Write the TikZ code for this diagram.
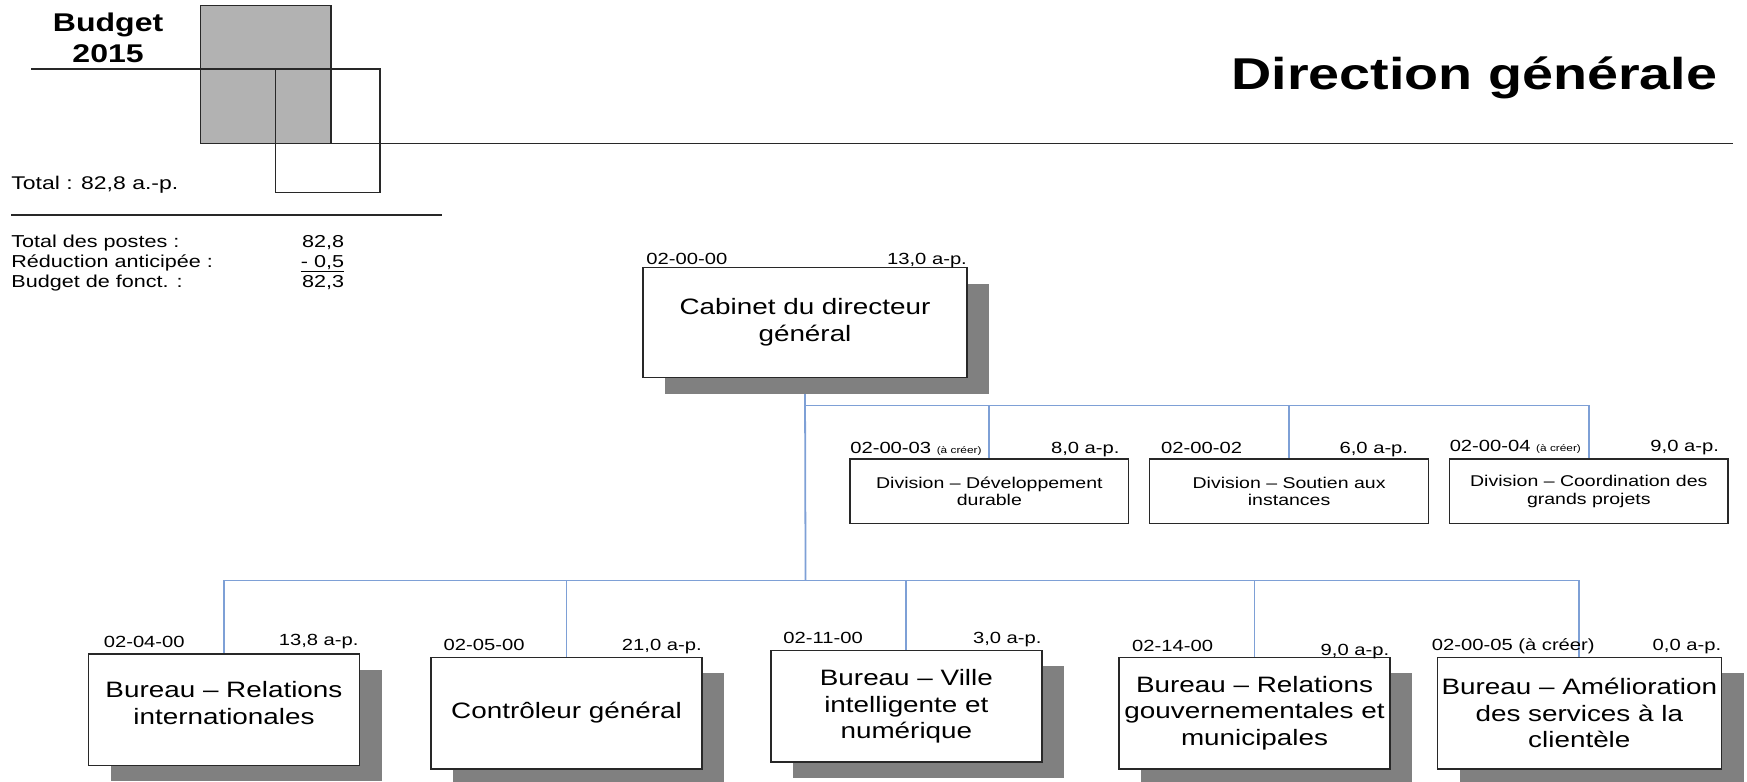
\documentclass[tikz,border=0pt]{standalone}
\usepackage{fontspec}
\setmainfont{Liberation Sans}[FakeStretch=1.25]
\usetikzlibrary{shadows}

\definecolor{bleulien}{RGB}{126,160,214}
\definecolor{ombre}{RGB}{128,128,128}
\definecolor{carre}{RGB}{178,178,178}
\definecolor{trait}{RGB}{40,40,40}

\newcommand{\fs}[2]{\fontsize{#1}{#2}\selectfont}

\pgfdeclarelayer{fond}
\pgfsetlayers{fond,main}

\begin{document}
\begin{tikzpicture}[x=1pt,y=-1pt]
  \useasboundingbox (0,0) rectangle (1568,701);

  % en-tete
  \begin{scope}[line width=1.2pt, draw=trait]
    \draw[fill=carre] (180,5) rectangle (297,129);
    \draw (247,62) rectangle (341,173);
    \draw (28,62) -- (247,62);
    \draw (240,129) -- (1555,129);
    \draw (10,193) -- (397,193);
  \end{scope}

  \node[font=\bfseries\fs{23}{28}, align=center] (budget) at (97,34) {Budget\\2015};
  \node[anchor=base east, font=\bfseries\fs{40}{48}] (titre) at (1545,80) {Direction générale};

  \begin{scope}[every node/.style={font=\fs{15.5}{18}, inner sep=0pt}]
    \node[anchor=base west, font=\fs{16.5}{19}] (total) at (10,170) {Total : 82,8 a.-p.};
    \node[anchor=base west] (postes) at (10,222) {Total des postes :};
    \node[anchor=base east] (vpostes) at (309,222) {82,8};
    \node[anchor=base west] (reduc) at (10,240) {Réduction anticipée :};
    \node[anchor=base east] (vreduc) at (309,240) {\underline{- 0,5}};
    \node[anchor=base west] (fonct) at (10,258) {Budget de fonct. :};
    \node[anchor=base east] (vfonct) at (309,258) {82,3};
  \end{scope}

  % boites
  \begin{scope}[every node/.style={draw=trait, line width=1.4pt, fill=white, align=center, inner sep=0pt}]
    \begin{scope}[every node/.append style={general shadow={fill=ombre, shadow xshift=20pt, shadow yshift=-15pt}}]
      \node[minimum width=291pt, minimum height=99pt, font=\fs{20}{24}] (cab) at (722.5,289.5) {Cabinet du directeur\\général};
    \end{scope}

    \begin{scope}[every node/.append style={minimum width=250pt, minimum height=58pt, line width=1.2pt, font=\fs{14}{16}}]
      \node (div1) at (888,441) {Division – Développement\\durable};
      \node (div2) at (1157,441) {Division – Soutien aux\\instances};
      \node (div3) at (1426,441) {Division – Coordination des\\grands projets};
    \end{scope}

    \begin{scope}[every node/.append style={minimum width=243pt, minimum height=100pt, font=\fs{20}{24},
        general shadow={fill=ombre, shadow xshift=20pt, shadow yshift=-14pt}}]
      \node (bur1) at (201,637) {Bureau – Relations\\internationales\vphantom{\strut}\\[-12pt]};
      \node (bur2) at (508.5,640) {Contrôleur général};
      \node (bur3) at (813.5,634) {Bureau – Ville\\intelligente et\\numérique};
      \node (bur4) at (1126,640) {Bureau – Relations\\gouvernementales et\\municipales};
      \node[minimum width=255pt] (bur5) at (1417.5,640) {Bureau – Amélioration\\des services à la\\clientèle};
    \end{scope}
  \end{scope}

  % liens
  \coordinate (haut) at (723,364);
  \coordinate (bas) at (723,521);
  \begin{pgfonlayer}{fond}
    \begin{scope}[draw=bleulien, line width=1.6pt]
      \draw (cab.south) -- (bas);
      \draw (haut) -| (div1.north);
      \draw (haut) -| (div2.north);
      \draw (haut) -| (div3.north);
      \draw (bas) -| (bur1.north);
      \draw (bas) -| (bur2.north);
      \draw (bas) -| (bur3.north);
      \draw (bas) -| (bur4.north);
      \draw (bas) -| (bur5.north);
    \end{scope}
  \end{pgfonlayer}

  % codes et postes
  \begin{scope}[every node/.style={font=\fs{14.5}{17}, inner sep=0pt}]
    \node[anchor=base west] (ccab) at (580,237) {02-00-00};
    \node[anchor=base east] (pcab) at (868,237) {13,0 a-p.};
    \node[anchor=base west] (cdiv1) at (763,407) {02-00-03 {\fs{8.5}{10}(à créer)}};
    \node[anchor=base east] (pdiv1) at (1005,407) {8,0 a-p.};
    \node[anchor=base west] (cdiv2) at (1042,407) {02-00-02};
    \node[anchor=base east] (pdiv2) at (1264,407) {6,0 a-p.};
    \node[anchor=base west] (cdiv3) at (1301,405) {02-00-04 {\fs{8.5}{10}(à créer)}};
    \node[anchor=base east] (pdiv3) at (1543,405) {9,0 a-p.};
    \node[anchor=base west] (cbur1) at (93,581) {02-04-00};
    \node[anchor=base east] (pbur1) at (322,579) {13,8 a-p.};
    \node[anchor=base west] (cbur2) at (398,584) {02-05-00};
    \node[anchor=base east] (pbur2) at (630,584) {21,0 a-p.};
    \node[anchor=base west] (cbur3) at (703,578) {02-11-00};
    \node[anchor=base east] (pbur3) at (935,578) {3,0 a-p.};
    \node[anchor=base west] (cbur4) at (1016,585) {02-14-00};
    \node[anchor=base east] (pbur4) at (1247,588) {9,0 a-p.};
    \node[anchor=base west] (cbur5) at (1285,584) {02-00-05 (à créer)};
    \node[anchor=base east] (pbur5) at (1545,584) {0,0 a-p.};
  \end{scope}

\end{tikzpicture}
\end{document}
